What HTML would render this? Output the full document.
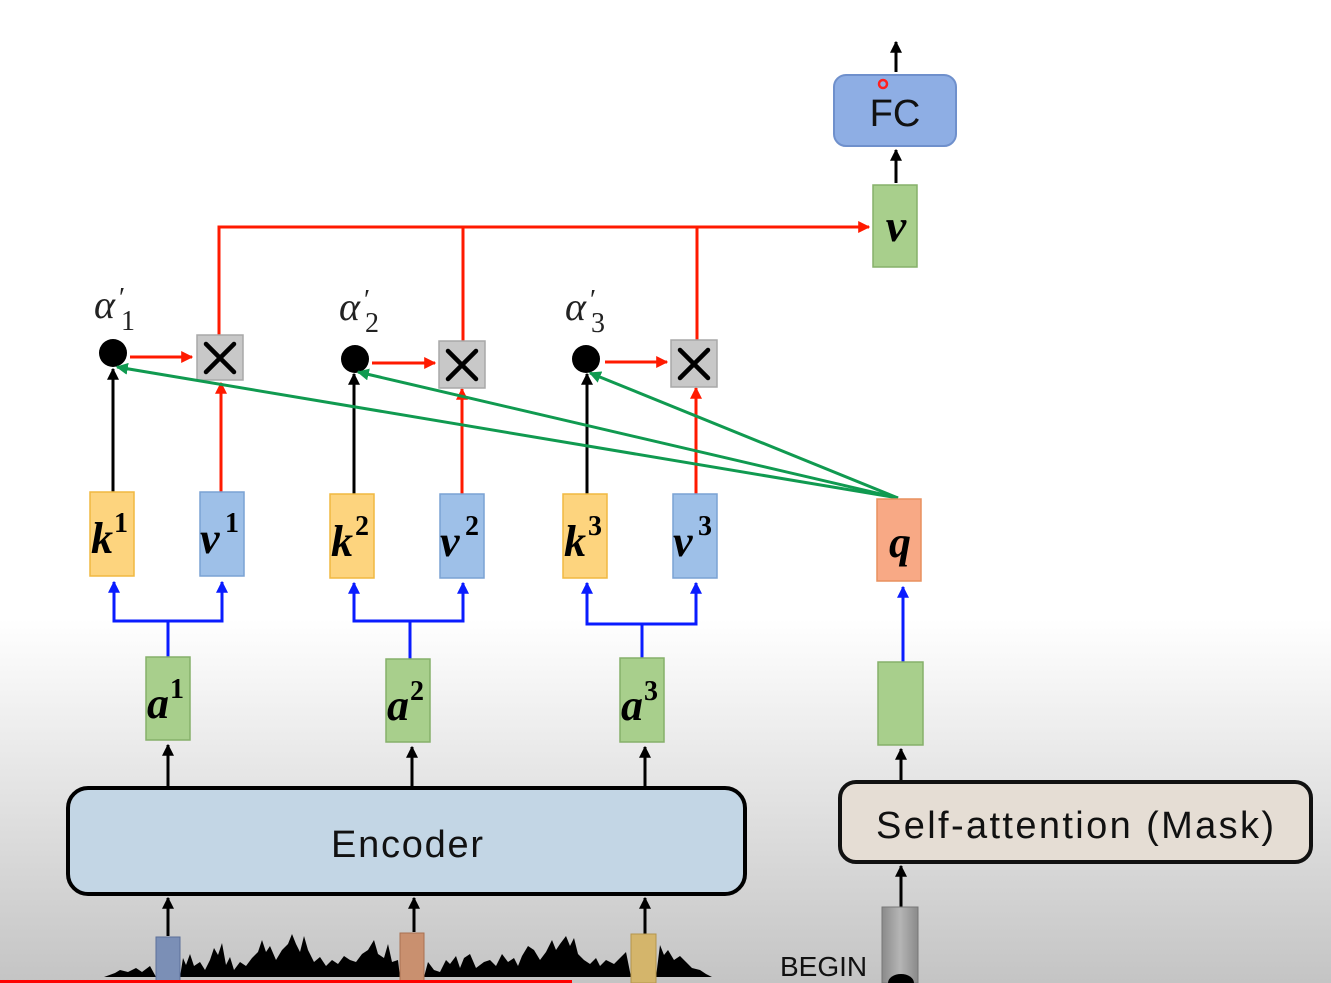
<!DOCTYPE html>
<html><head><meta charset="utf-8"><style>
html,body{margin:0;padding:0;width:1331px;height:983px;overflow:hidden;background:#fff}
svg{display:block}
</style></head><body>
<svg width="1331" height="983" viewBox="0 0 1331 983" xmlns="http://www.w3.org/2000/svg">
<defs>
<linearGradient id="bg" x1="0" y1="0" x2="0" y2="1">
<stop offset="0" stop-color="#ffffff"/><stop offset="0.63" stop-color="#ffffff"/><stop offset="1" stop-color="#c4c4c4"/></linearGradient>
<linearGradient id="gb" x1="0" y1="0" x2="1" y2="0"><stop offset="0" stop-color="#8a8a8a"/><stop offset="0.5" stop-color="#b5b5b5"/><stop offset="1" stop-color="#8a8a8a"/></linearGradient>
<marker id="ab" viewBox="0 0 10 10" refX="9" refY="5" markerWidth="4" markerHeight="4" orient="auto"><path d="M0,0L10,5L0,10z" fill="#000"/></marker>
<marker id="ar" viewBox="0 0 10 10" refX="9" refY="5" markerWidth="4" markerHeight="4" orient="auto"><path d="M0,0L10,5L0,10z" fill="#ff1a00"/></marker>
<marker id="au" viewBox="0 0 10 10" refX="9" refY="5" markerWidth="4" markerHeight="4" orient="auto"><path d="M0,0L10,5L0,10z" fill="#0a1cff"/></marker>
<marker id="ag" viewBox="0 0 10 10" refX="9" refY="5" markerWidth="4" markerHeight="4" orient="auto"><path d="M0,0L10,5L0,10z" fill="#109a50"/></marker>
</defs>
<rect x="0" y="0" width="1331" height="983" fill="url(#bg)"/>

<!-- FC -->
<rect x="834" y="75" width="122" height="71" rx="12" fill="#8eaee4" stroke="#6f90cc" stroke-width="2"/>
<text x="895" y="126" font-family="Liberation Sans, sans-serif" font-size="38" text-anchor="middle" fill="#111">FC</text>
<circle cx="883" cy="84" r="4" fill="none" stroke="#ff2020" stroke-width="2.5"/>
<line x1="896" y1="72" x2="896" y2="42" stroke="#000" stroke-width="3" marker-end="url(#ab)"/>
<line x1="896" y1="183" x2="896" y2="150" stroke="#000" stroke-width="3" marker-end="url(#ab)"/>
<rect x="873" y="185" width="44" height="82" fill="#a8cf8c" stroke="#86b06a" stroke-width="1.5"/>
<text x="896" y="241" font-family="Liberation Serif, serif" font-style="italic" font-weight="bold" font-size="46" text-anchor="middle">v</text>

<!-- red bus -->
<g stroke="#ff1a00" stroke-width="3" fill="none">
<polyline points="219,336 219,227 869,227" marker-end="url(#ar)"/>
<line x1="463" y1="227" x2="463" y2="342"/>
<line x1="697" y1="227" x2="697" y2="342"/>
<line x1="130" y1="357" x2="192" y2="357" marker-end="url(#ar)"/>
<line x1="372" y1="363" x2="435" y2="363" marker-end="url(#ar)"/>
<line x1="605" y1="362" x2="667" y2="362" marker-end="url(#ar)"/>
<line x1="221" y1="492" x2="221" y2="383" marker-end="url(#ar)"/>
<line x1="462" y1="494" x2="462" y2="389" marker-end="url(#ar)"/>
<line x1="696" y1="494" x2="696" y2="388" marker-end="url(#ar)"/>
</g>

<!-- x boxes -->
<g fill="#c8c8c8" stroke="#a8a8a8" stroke-width="1.5">
<rect x="197" y="335" width="46" height="45"/>
<rect x="439" y="341" width="46" height="47"/>
<rect x="671" y="340" width="46" height="47"/>
</g>
<g stroke="#000" stroke-width="4.5" stroke-linecap="round">
<path d="M206,344L234,372M234,344L206,372"/>
<path d="M448,351L476,379M476,351L448,379"/>
<path d="M680,350L708,378M708,350L680,378"/>
</g>

<!-- dots -->
<circle cx="113" cy="353" r="14" fill="#000"/>
<circle cx="355" cy="359" r="14" fill="#000"/>
<circle cx="586" cy="359" r="14" fill="#000"/>
<g font-family="Liberation Serif, serif" font-style="italic" font-size="40" fill="#222">
<text x="94" y="318">α</text><text x="339" y="320">α</text><text x="565" y="320">α</text></g>
<g font-family="Liberation Serif, serif" font-size="28" fill="#222">
<text x="119" y="307">′</text><text x="121" y="330">1</text>
<text x="364" y="309">′</text><text x="365" y="332">2</text>
<text x="590" y="309">′</text><text x="591" y="332">3</text></g>

<!-- black k arrows -->
<g stroke="#000" stroke-width="3">
<line x1="113" y1="492" x2="113" y2="369" marker-end="url(#ab)"/>
<line x1="354" y1="494" x2="354" y2="374" marker-end="url(#ab)"/>
<line x1="587" y1="494" x2="587" y2="374" marker-end="url(#ab)"/>
</g>
<!-- green lines -->
<g stroke="#109a50" stroke-width="3">
<line x1="898" y1="498" x2="117" y2="367" marker-end="url(#ag)"/>
<line x1="898" y1="498" x2="358" y2="372" marker-end="url(#ag)"/>
<line x1="898" y1="498" x2="590" y2="373" marker-end="url(#ag)"/>
</g>

<!-- blue forks -->
<g stroke="#0a1cff" stroke-width="3" fill="none">
<polyline points="168,657 168,621"/><polyline points="114,583 114,621 222,621 222,583"/>
<line x1="114" y1="600" x2="114" y2="582" marker-end="url(#au)"/><line x1="222" y1="600" x2="222" y2="582" marker-end="url(#au)"/>
<polyline points="410,659 410,621"/><polyline points="354,585 354,621 463,621 463,585"/>
<line x1="354" y1="600" x2="354" y2="583" marker-end="url(#au)"/><line x1="463" y1="600" x2="463" y2="583" marker-end="url(#au)"/>
<polyline points="642,658 642,624"/><polyline points="587,585 587,624 696,624 696,585"/>
<line x1="587" y1="600" x2="587" y2="583" marker-end="url(#au)"/><line x1="696" y1="600" x2="696" y2="583" marker-end="url(#au)"/>
<line x1="903" y1="662" x2="903" y2="587" marker-end="url(#au)"/>
</g>

<!-- boxes -->
<g stroke-width="1.5">
<rect x="90" y="492" width="44" height="84" fill="#fdd47e" stroke="#f0b840"/>
<rect x="200" y="492" width="44" height="84" fill="#9ec0e8" stroke="#7aa2d4"/>
<rect x="330" y="494" width="44" height="84" fill="#fdd47e" stroke="#f0b840"/>
<rect x="440" y="494" width="44" height="84" fill="#9ec0e8" stroke="#7aa2d4"/>
<rect x="563" y="494" width="44" height="84" fill="#fdd47e" stroke="#f0b840"/>
<rect x="673" y="494" width="44" height="84" fill="#9ec0e8" stroke="#7aa2d4"/>
<rect x="877" y="499" width="44" height="82" fill="#f8a985" stroke="#e8905f"/>
<rect x="146" y="657" width="44" height="83" fill="#a8cf8c" stroke="#86b06a"/>
<rect x="386" y="659" width="44" height="83" fill="#a8cf8c" stroke="#86b06a"/>
<rect x="620" y="658" width="44" height="84" fill="#a8cf8c" stroke="#86b06a"/>
<rect x="878" y="662" width="45" height="83" fill="#a8cf8c" stroke="#86b06a"/>
</g>
<g font-family="Liberation Serif, serif" font-style="italic" font-weight="bold" font-size="44" fill="#000">
<text x="91" y="553">k</text><text x="200" y="553">v</text>
<text x="331" y="556">k</text><text x="440" y="556">v</text>
<text x="564" y="556">k</text><text x="673" y="556">v</text>
<text x="889" y="557">q</text>
<text x="147" y="718">a</text><text x="387" y="720">a</text><text x="621" y="720">a</text>
</g>
<g font-family="Liberation Serif, serif" font-weight="bold" font-size="28" fill="#000">
<text x="114" y="532">1</text><text x="225" y="532">1</text>
<text x="355" y="535">2</text><text x="465" y="535">2</text>
<text x="588" y="535">3</text><text x="698" y="535">3</text>
<text x="170" y="698">1</text><text x="410" y="700">2</text><text x="644" y="700">3</text>
</g>

<!-- black arrows -->
<g stroke="#000" stroke-width="3">
<line x1="168" y1="786" x2="168" y2="745" marker-end="url(#ab)"/>
<line x1="412" y1="786" x2="412" y2="747" marker-end="url(#ab)"/>
<line x1="645" y1="786" x2="645" y2="747" marker-end="url(#ab)"/>
<line x1="901" y1="780" x2="901" y2="749" marker-end="url(#ab)"/>
<line x1="168" y1="936" x2="168" y2="898" marker-end="url(#ab)"/>
<line x1="414" y1="932" x2="414" y2="898" marker-end="url(#ab)"/>
<line x1="645" y1="934" x2="645" y2="898" marker-end="url(#ab)"/>
<line x1="901" y1="907" x2="901" y2="866" marker-end="url(#ab)"/>
</g>

<!-- Encoder -->
<rect x="68" y="788" width="677" height="106" rx="20" fill="#c3d6e5" stroke="#000" stroke-width="4"/>
<text x="407" y="857" font-family="Liberation Sans, sans-serif" font-size="38" text-anchor="middle" fill="#111" textLength="152">Encoder</text>
<rect x="840" y="782" width="471" height="80" rx="16" fill="#e5ddd4" stroke="#111" stroke-width="4"/>
<text x="1075" y="838" font-family="Liberation Sans, sans-serif" font-size="38" text-anchor="middle" fill="#111" textLength="398">Self-attention (Mask)</text>

<!-- waveform -->
<path fill="#000" d="M104,977 L115,973 120,970 128,972 136,968 142,972 150,966 156,977 L180,977 183,958 186,965 190,954 194,966 200,962 205,970 210,960 214,948 218,955 222,943 226,965 230,957 234,970 240,962 246,966 252,958 258,952 262,940 266,952 270,946 276,960 282,950 288,944 292,934 296,944 300,952 304,936 308,950 314,962 320,957 326,966 332,960 338,964 344,956 350,960 356,962 362,954 368,950 374,940 378,954 384,958 388,944 392,962 398,960 400,977 L424,977 428,962 434,970 440,972 446,960 450,964 456,956 460,968 464,958 470,954 476,968 484,962 490,960 496,966 502,954 508,962 514,958 518,966 522,956 528,946 534,950 540,960 546,952 552,940 556,950 560,944 566,936 570,946 574,938 578,954 584,960 590,964 596,958 600,966 606,960 614,964 620,958 626,952 631,977 L656,977 660,945 664,955 668,950 674,960 680,956 686,962 692,968 700,970 706,974 712,977 Z"/>
<rect x="156" y="937" width="24" height="46" fill="#7b8fb6" stroke="#5b6f99"/>
<rect x="400" y="933" width="24" height="50" fill="#c9906f" stroke="#a97050"/>
<rect x="631" y="934" width="25" height="49" fill="#d4b56b" stroke="#b4954b"/>

<!-- BEGIN -->
<rect x="882" y="907" width="36" height="76" fill="url(#gb)" stroke="#777"/>
<ellipse cx="901" cy="983" rx="13" ry="9" fill="#000"/>
<text x="780" y="976" font-family="Liberation Sans, sans-serif" font-size="28" fill="#111">BEGIN</text>

<rect x="0" y="980" width="572" height="3" fill="#ff0000"/>
</svg>
</body></html>
